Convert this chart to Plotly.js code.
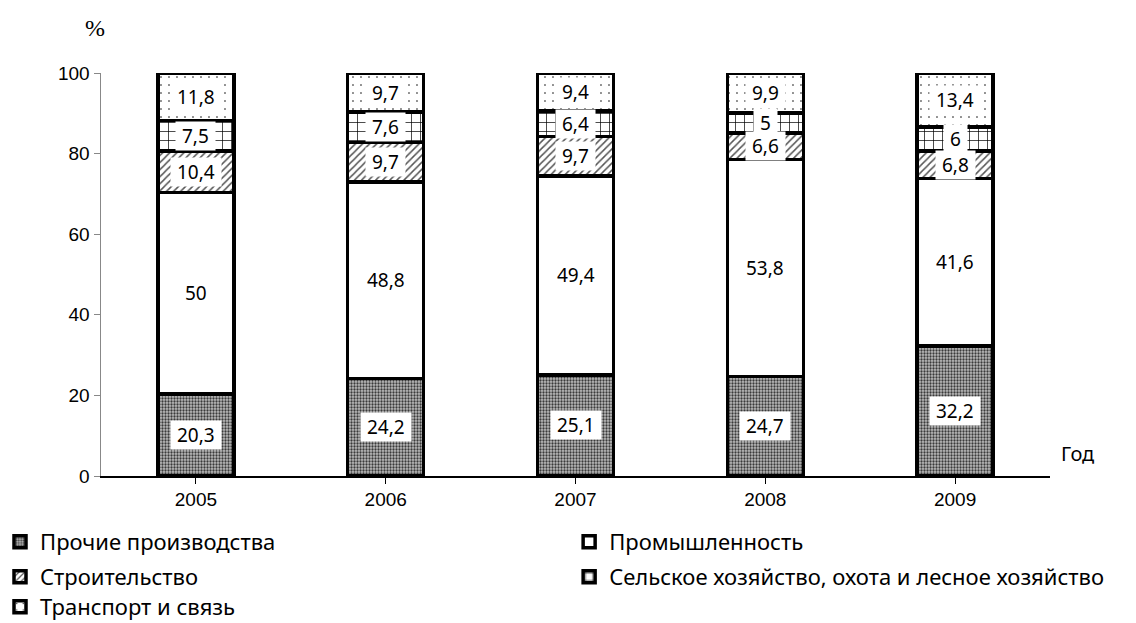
<!DOCTYPE html>
<html><head><meta charset="utf-8">
<script src="https://cdn.plot.ly/plotly-3.0.1.min.js"></script>
<style>body{margin:0;background:#fff}#c{width:1136px;height:623px}</style>
</head><body><div id="c"></div>
<script>
var years = ['2005','2006','2007','2008','2009'];
var names = ['Прочие производства','Промышленность','Строительство','Сельское хозяйство, охота и лесное хозяйство','Транспорт и связь'];
var prochie = [20.3, 24.2, 25.1, 24.7, 32.2];
var prom = [50, 48.8, 49.4, 53.8, 41.6];
var stroy = [10.4, 9.7, 9.7, 6.6, 6.8];
var selsk = [7.5, 7.6, 6.4, 5, 6];
var transp = [11.8, 9.7, 9.4, 9.9, 13.4];
var series = [prochie, prom, stroy, selsk, transp];
var legendIds = ['legend','legend2','legend3','legend4','legend5'];

var markers = [
  {color:'#999999', pattern:{shape:'.', fgcolor:'#3a3a3a', bgcolor:'#bdbdbd', size:3, solidity:0.45}},
  {color:'#ffffff'},
  {color:'#ffffff', pattern:{shape:'/', fgcolor:'#555555', bgcolor:'#ffffff', size:5, solidity:0.3}},
  {color:'#ffffff', pattern:{shape:'+', fgcolor:'#000000', bgcolor:'#ffffff', size:9, solidity:0.15}},
  {color:'#ffffff', pattern:{shape:'.', fgcolor:'#000000', bgcolor:'#ffffff', size:8, solidity:0.03}}
];

var traces = series.map(function(s,i){
  var m = markers[i];
  m.line = {color:'#000', width:3.5};
  return {type:'bar', x:years, y:s, name:names[i], marker:m, width:0.4, hoverinfo:'skip', legend:legendIds[i]};
});

var annotations = [];
years.forEach(function(yr, j){
  var cum = 0;
  series.forEach(function(s){
    var v = s[j];
    annotations.push({x:yr, y:cum + v/2, xref:'x', yref:'y', text:'&nbsp;' + String(v).replace('.', ',') + '&nbsp;',
      showarrow:false, bgcolor:'#ffffff', borderpad:1,
      font:{family:'Noto Sans, sans-serif', size:19, color:'#000'}});
    cum += v;
  });
});
annotations.push({xref:'paper', yref:'paper', x:-0.006, y:1.112, xanchor:'center', yanchor:'middle', text:'%', showarrow:false,
  font:{family:'Liberation Serif, serif', size:24, color:'#000'}});
annotations.push({xref:'paper', yref:'paper', x:1.01, y:0.055, xanchor:'left', yanchor:'middle', text:'Год', showarrow:false,
  font:{family:'Noto Sans, sans-serif', size:20, color:'#000'}});

function leg(xp, yc){
  return {orientation:'v', xref:'container', yref:'container', x:xp, y:1 - yc/623, xanchor:'left', yanchor:'middle',
    bgcolor:'rgba(0,0,0,0)', borderwidth:0,
    font:{family:'Noto Sans, sans-serif', size:22, color:'#000'}, itemclick:false};
}

var layout = {
  width:1136, height:623,
  margin:{l:101, r:86, t:73, b:147, autoexpand:false},
  barmode:'stack',
  paper_bgcolor:'#fff', plot_bgcolor:'#fff',
  font:{family:'Liberation Sans, Arial, sans-serif', size:19, color:'#000'},
  xaxis:{showline:true, linecolor:'#000', linewidth:1.5, ticks:'outside', tickson:'boundaries', ticklen:6, tickcolor:'#000',
    tickfont:{family:'Liberation Sans, Arial, sans-serif', size:19}, showgrid:false, automargin:false},
  yaxis:{range:[0,100], dtick:20, showline:true, linecolor:'#888', linewidth:1.5, ticks:'outside', ticklen:6, tickcolor:'#888',
    showgrid:false, zeroline:false, automargin:false, tickfont:{family:'Liberation Sans, Arial, sans-serif', size:19}},
  showlegend:true,
  legend:leg(0, 542), legend2:leg(0.501, 542), legend3:leg(0, 577), legend4:leg(0.501, 577), legend5:leg(0, 607),
  annotations:annotations
};
Plotly.newPlot('c', traces, layout, {staticPlot:true});
</script></body></html>
